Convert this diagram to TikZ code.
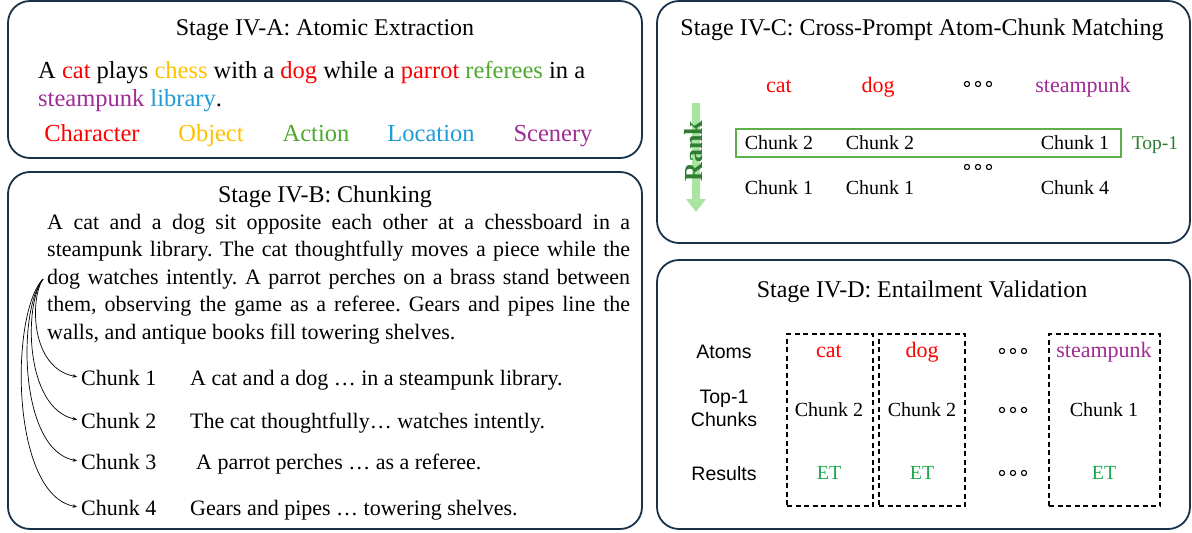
\documentclass[tikz,border=0pt]{standalone}
\usepackage{fontspec}
\setmainfont{Liberation Serif}
\newfontfamily\sansf{Liberation Sans}
\usetikzlibrary{arrows.meta}
\frenchspacing
\definecolor{cRed}{HTML}{FF0000}
\definecolor{cObj}{HTML}{FFC000}
\definecolor{cAct}{HTML}{4EA72E}
\definecolor{cLoc}{HTML}{1E9BD7}
\definecolor{cScn}{HTML}{A02B93}
\definecolor{bordercol}{HTML}{17324A}
\definecolor{dkgreen}{HTML}{2E7D32}
\definecolor{rectgreen}{HTML}{5DB04A}
\definecolor{lightgreen}{HTML}{A9E5A0}
\definecolor{etgreen}{HTML}{1BAA4E}
\tikzset{
  panel/.style={draw=bordercol, line width=1.8pt, rounded corners=22pt},
  ttl/.style={inner sep=0pt, anchor=base, font=\fontsize{24}{28}\selectfont},
  big/.style={inner sep=0pt, anchor=base, font=\fontsize{24.5}{28}\selectfont},
  chk/.style={inner sep=0pt, anchor=base west, font=\fontsize{22}{26}\selectfont},
  cell/.style={inner sep=0pt, anchor=base, font=\fontsize{20}{24}\selectfont},
  atom/.style={inner sep=0pt, anchor=base, font=\fontsize{22}{26}\selectfont},
  rowlab/.style={inner sep=0pt, font=\sansf\fontsize{19.5}{23}\selectfont, align=center},
  dotsty/.style={draw=black, line width=1.1pt},
  chunkarrow/.style={draw=black, line width=0.7pt, -{Stealth[length=4.5pt,width=3.5pt]}, shorten >=4pt},
  dbox/.style={draw=black, dashed, dash pattern=on 5pt off 3.5pt, line width=1.5pt, inner sep=0pt}
}
\begin{document}
\begin{tikzpicture}[x=1pt,y=-1pt]
\useasboundingbox (0,0) rectangle (1192,533);
% panels
\draw[panel] (8,1) rectangle (642,158);
\draw[panel] (8,172) rectangle (642,529);
\draw[panel] (657,1) rectangle (1190,243);
\draw[panel] (657,260) rectangle (1190,529);

% ---------- Stage IV-A
\node[ttl] (ta) at (325,35) {Stage IV-A: Atomic Extraction};
\node[inner sep=0pt, anchor=base west, align=left, font=\fontsize{24.5}{28}\selectfont] (sa) at (38,106)
 {A \textcolor{cRed}{cat} plays \textcolor{cObj}{chess} with a \textcolor{cRed}{dog} while a \textcolor{cRed}{parrot} \textcolor{cAct}{referees} in a\\
  \textcolor{cScn}{steampunk} \textcolor{cLoc}{library}.};
\node[big, text=cRed] (k1) at (92,141) {Character};
\node[big, text=cObj] (k2) at (211,141) {Object};
\node[big, text=cAct] (k3) at (316,141) {Action};
\node[big, text=cLoc] (k4) at (431,141) {Location};
\node[big, text=cScn] (k5) at (553,141) {Scenery};

% ---------- Stage IV-B
\node[ttl] (tb) at (325,202) {Stage IV-B: Chunking};
\node[inner sep=0pt, anchor=base west, text width=583pt, align=justify,
      font=\fontsize{22}{27.5}\selectfont] (para) at (47,229)
 {\tolerance=10000\hbadness=10000 A cat and a dog sit opposite each other at a chessboard in a\linebreak
  steampunk library. The cat thoughtfully moves a piece while the\linebreak
  dog watches intently. A parrot perches on a brass stand between\linebreak
  them, observing the game as a referee. Gears and pipes line the\linebreak
  walls, and antique books fill towering shelves.};
\node[chk] (c1) at (81,385) {Chunk 1};
\node[chk] (c2) at (81,428) {Chunk 2};
\node[chk] (c3) at (81,469) {Chunk 3};
\node[chk] (c4) at (81,515) {Chunk 4};
\node[chk] (d1) at (190,385) {A cat and a dog … in a steampunk library.};
\node[chk] (d2) at (190,428) {The cat thoughtfully… watches intently.};
\node[chk] (d3) at (196,469) {A parrot perches … as a referee.};
\node[chk] (d4) at (190,515) {Gears and pipes … towering shelves.};
\coordinate (src) at (43,279);
\draw[chunkarrow] (src) .. controls (30,298) and (30,368) .. (c1.west);
\draw[chunkarrow] (src) .. controls (24,303) and (24,408) .. (c2.west);
\draw[chunkarrow] (src) .. controls (18,308) and (18,450) .. (c3.west);
\draw[chunkarrow] (src) .. controls (10,313) and (10,495) .. (c4.west);

% ---------- Stage IV-C
\node[ttl] (tc) at (922,35) {Stage IV-C: Cross-Prompt Atom-Chunk Matching};
\node[atom, text=cRed] (ca) at (779,92) {cat};
\node[atom, text=cRed] (cb) at (878,92) {dog};
\node[atom, text=cScn] (cc) at (1083,92) {steampunk};
\coordinate (cdots1) at (978,84);
\draw[dotsty] (cdots1) ++(-11,0) circle[radius=2.6pt] ++(11,0) circle[radius=2.6pt] ++(11,0) circle[radius=2.6pt];
\node[draw=rectgreen, line width=1.5pt, minimum width=385pt, minimum height=28pt, inner sep=0pt] (topbox) at (928.5,143) {};
\node[cell] (r11) at (779,149.5) {Chunk 2};
\node[cell] (r12) at (880,149.5) {Chunk 2};
\node[cell] (r13) at (1075,149.5) {Chunk 1};
\node[inner sep=0pt, anchor=base, text=dkgreen, font=\fontsize{19.5}{22}\selectfont] (top1) at (1155,149.5) {Top-1};
\coordinate (cdots2) at (978,167);
\draw[dotsty] (cdots2) ++(-11,0) circle[radius=2.6pt] ++(11,0) circle[radius=2.6pt] ++(11,0) circle[radius=2.6pt];
\node[cell] (r21) at (779,194.5) {Chunk 1};
\node[cell] (r22) at (880,194.5) {Chunk 1};
\node[cell] (r23) at (1075,194.5) {Chunk 4};
\fill[lightgreen] (692,103) -- (700,103) -- (700,199) -- (706,199) -- (696,212) -- (686,199) -- (692,199) -- cycle;
\node[rotate=90, inner sep=0pt, text=dkgreen, font=\bfseries\fontsize{26}{26}\selectfont] (rank) at (694,151) {Rank};

% ---------- Stage IV-D
\node[ttl] (td) at (922,297) {Stage IV-D: Entailment Validation};
\node[rowlab, anchor=base] (la) at (724,358) {Atoms};
\node[rowlab] (lb) at (724,408.5) {Top-1\\Chunks};
\node[rowlab, anchor=base] (lc) at (724,480) {Results};
\node[dbox, minimum width=86pt, minimum height=172pt] (b1) at (830,420) {};
\node[dbox, minimum width=86pt, minimum height=172pt] (b2) at (922,420) {};
\node[dbox, minimum width=111pt, minimum height=172pt] (b3) at (1104.5,420) {};
\node[atom, text=cRed] (da1) at (829,357) {cat};
\node[atom, text=cRed] (da2) at (922,357) {dog};
\node[atom, text=cScn] (da3) at (1104,357) {steampunk};
\node[cell] (dc1) at (829,416.6) {Chunk 2};
\node[cell] (dc2) at (922,416.6) {Chunk 2};
\node[cell] (dc3) at (1104,416.6) {Chunk 1};
\node[cell, text=etgreen] (de1) at (829,479.6) {ET};
\node[cell, text=etgreen] (de2) at (922,479.6) {ET};
\node[cell, text=etgreen] (de3) at (1104,479.6) {ET};
\coordinate (ddots1) at (1013,351);
\coordinate (ddots2) at (1013,410);
\coordinate (ddots3) at (1013,473);
\foreach \p in {ddots1,ddots2,ddots3}{
  \draw[dotsty] (\p) ++(-11,0) circle[radius=2.6pt] ++(11,0) circle[radius=2.6pt] ++(11,0) circle[radius=2.6pt];
}
\end{tikzpicture}
\end{document}
